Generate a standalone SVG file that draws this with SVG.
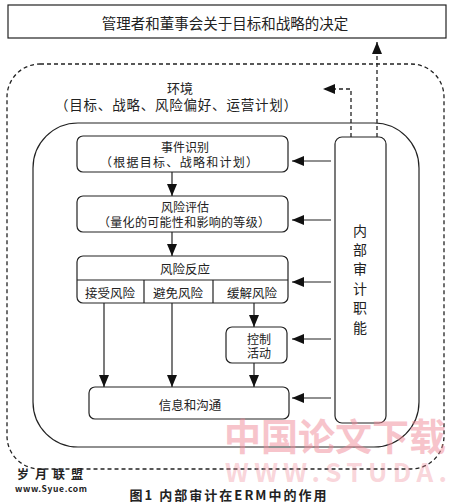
<svg xmlns="http://www.w3.org/2000/svg" width="450" height="502" viewBox="0 0 450 502">
<defs>
<marker id="ah" markerUnits="userSpaceOnUse" markerWidth="13" markerHeight="11" refX="12" refY="5" orient="auto">
<path d="M0,0 L12,5 L0,10 z" fill="#111"/>
</marker>
</defs>
<style>
.t{font-family:"Noto Sans CJK SC","Noto Sans",sans-serif;fill:#222;text-anchor:middle;dominant-baseline:central}
.box{fill:#fff;stroke:#222;stroke-width:1.2}
.ln{fill:none;stroke:#222;stroke-width:1.2}
.dash{fill:none;stroke:#222;stroke-width:1.3;stroke-dasharray:4 3}
.wm{font-family:"Noto Sans CJK SC","DejaVu Sans",sans-serif;font-weight:bold;fill:#f08a98;text-anchor:middle}
</style>
<rect width="450" height="502" fill="#fff"/>
<g id="top">
<rect class="box" x="8" y="5" width="438" height="33"/>
<text class="t" x="225" y="22" font-size="14.5">管理者和董事会关于目标和战略的决定</text>
</g>
<g id="environment">
<rect class="dash" x="7" y="64" width="437" height="405" rx="33"/>
<text class="t" x="180" y="87" font-size="13">环境</text>
<text class="t" x="176" y="104" font-size="13.5" textLength="242">（目标、战略、风险偏好、运营计划）</text>
</g>
<g id="erm">
<rect class="ln" x="33" y="123" width="386" height="324" rx="45"/>
</g>
<g id="audit">
<rect class="box" x="335" y="137" width="51" height="286" rx="7"/>
<text class="t" x="360" y="230" font-size="14">内</text>
<text class="t" x="360" y="249" font-size="14">部</text>
<text class="t" x="360" y="268" font-size="14">审</text>
<text class="t" x="360" y="288" font-size="14">计</text>
<text class="t" x="360" y="307" font-size="14">职</text>
<text class="t" x="360" y="327" font-size="14">能</text>
</g>
<g id="event">
<rect class="box" x="77" y="136" width="211" height="36" rx="6"/>
<text class="t" x="185" y="146" font-size="12">事件识别</text>
<text class="t" x="179" y="161" font-size="12" textLength="158">（根据目标、战略和计划）</text>
</g>
<g id="assess">
<rect class="box" x="77" y="196" width="211" height="36" rx="6"/>
<text class="t" x="185" y="206.5" font-size="12">风险评估</text>
<text class="t" x="184" y="221" font-size="12" textLength="172">（量化的可能性和影响的等级）</text>
</g>
<g id="response">
<rect class="box" x="77" y="256" width="211" height="47" rx="6"/>
<line class="ln" x1="77" y1="280" x2="288" y2="280"/>
<line class="ln" x1="144" y1="280" x2="144" y2="303"/>
<line class="ln" x1="213" y1="280" x2="213" y2="303"/>
<text class="t" x="185" y="268" font-size="12.5">风险反应</text>
<text class="t" x="110" y="292" font-size="12.5">接受风险</text>
<text class="t" x="178" y="292" font-size="12.5">避免风险</text>
<text class="t" x="252" y="292" font-size="12.5">缓解风险</text>
</g>
<g id="control">
<rect class="box" x="226" y="327" width="61" height="36" rx="6"/>
<text class="t" x="259" y="338.5" font-size="12">控制</text>
<text class="t" x="259" y="352.5" font-size="12">活动</text>
</g>
<g id="info">
<rect class="box" x="89" y="387" width="200" height="32" rx="6"/>
<text class="t" x="190" y="404" font-size="12.5">信息和沟通</text>
</g>
<g id="connectors">
<line class="ln" x1="172" y1="172" x2="172" y2="196" marker-end="url(#ah)"/>
<line class="ln" x1="172" y1="232" x2="172" y2="256" marker-end="url(#ah)"/>
<line class="ln" x1="104" y1="303" x2="104" y2="387" marker-end="url(#ah)"/>
<line class="ln" x1="172" y1="303" x2="172" y2="387" marker-end="url(#ah)"/>
<line class="ln" x1="254" y1="303" x2="254" y2="327" marker-end="url(#ah)"/>
<line class="ln" x1="254" y1="363" x2="254" y2="387" marker-end="url(#ah)"/>
<line class="ln" x1="331" y1="161" x2="292" y2="161" marker-end="url(#ah)"/>
<line class="ln" x1="331" y1="220" x2="292" y2="220" marker-end="url(#ah)"/>
<line class="ln" x1="331" y1="282" x2="292" y2="282" marker-end="url(#ah)"/>
<line class="ln" x1="331" y1="339" x2="292" y2="339" marker-end="url(#ah)"/>
<line class="ln" x1="331" y1="398" x2="292" y2="398" marker-end="url(#ah)"/>
<path class="dash" d="M377,137 L377,42" marker-end="url(#ah)"/>
<path class="dash" d="M351,137 L351,89 L323,89" marker-end="url(#ah)"/>
</g>
<g id="caption">
<text class="t" x="228" y="494" font-size="13" font-weight="bold" textLength="197">图1  内部审计在ERM中的作用</text>
<text class="t" x="50" y="473" font-size="12" font-weight="bold" textLength="66">岁月联盟</text>
<text class="t" x="51" y="488" font-size="8.5" font-weight="bold" textLength="72">www.Syue.com</text>
</g>
<g id="watermark" opacity="0.5">
<text class="wm" x="335" y="451" font-size="37" textLength="222">中国论文下载</text>
<text class="wm" x="336" y="482" font-size="26" textLength="222" fill-opacity="0.7">WWW.STUDA.</text>
</g>
</svg>
